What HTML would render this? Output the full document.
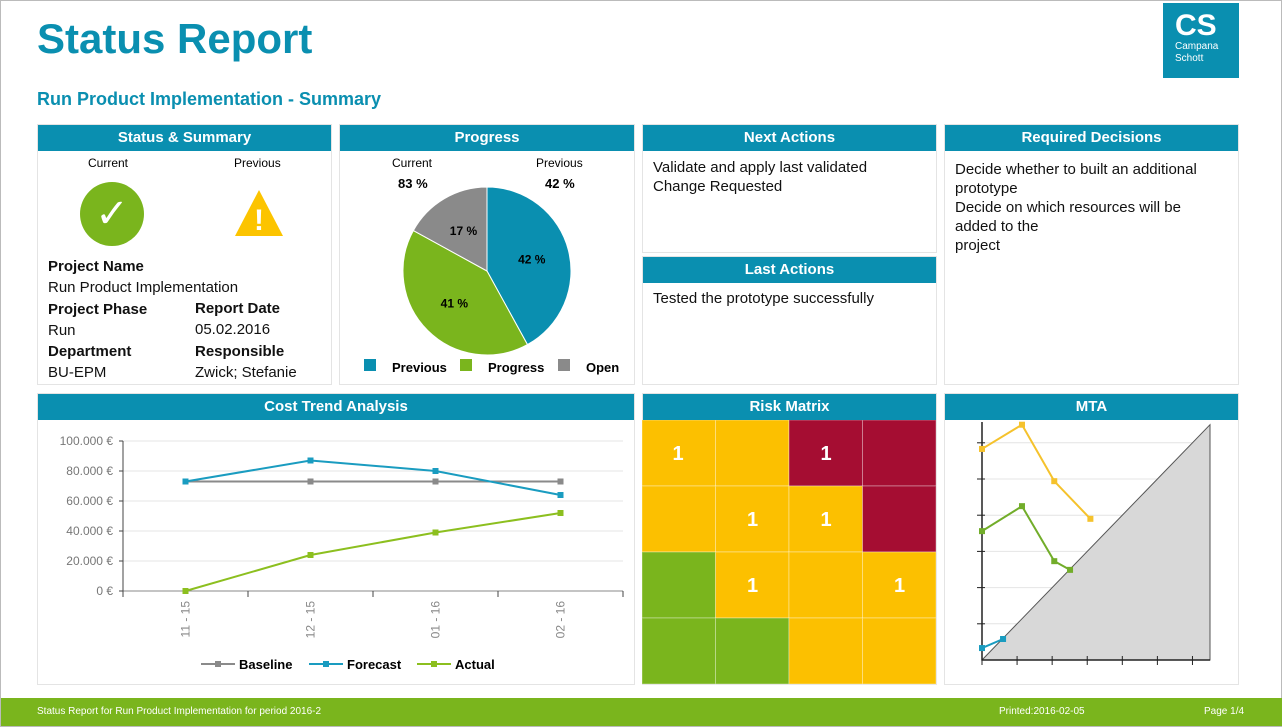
<!DOCTYPE html>
<html><head><meta charset="utf-8"><style>
*{margin:0;padding:0;box-sizing:border-box}
body{width:1282px;height:727px;background:#fff;font-family:"Liberation Sans",sans-serif;position:relative;overflow:hidden;border:1px solid #bbb}
.abs{position:absolute}
.panel{position:absolute;border:1px solid #e4e4e4;background:#fff}
.hdr{height:26px;background:#0a8fb0;color:#fff;font-weight:bold;font-size:15px;text-align:center;line-height:26px}
.txt{font-size:15px;color:#111;line-height:19px}
b{font-weight:bold}
</style></head><body>
<div class="abs" style="left:36px;top:14px;font-size:42px;font-weight:bold;color:#0a8fb0">Status Report</div>
<div class="abs" style="left:36px;top:88px;font-size:18px;font-weight:bold;color:#0a8fb0">Run Product Implementation - Summary</div>
<div class="abs" style="left:1162px;top:2px;width:76px;height:75px;background:#0a8fb0;color:#fff;padding:8px 0 0 12px">
<div style="font-size:30px;font-weight:bold;line-height:30px">CS</div><div style="font-size:10px;line-height:12px">Campana<br>Schott</div></div>

<div class="panel" style="left:36px;top:123px;width:295px;height:261px">
<div class="hdr">Status &amp; Summary</div>
<div class="abs" style="left:50px;top:31px;font-size:12px">Current</div>
<div class="abs" style="left:196px;top:31px;font-size:12px">Previous</div>
<div class="abs" style="left:42px;top:57px;width:64px;height:64px;border-radius:50%;background:#7ab51d;color:#fff;font-size:40px;text-align:center;line-height:64px">✓</div>
<svg class="abs" style="left:195px;top:63px" width="52" height="50"><polygon points="26,2 50,48 2,48" fill="#fcc400"/><text x="26" y="42" text-anchor="middle" font-size="30" fill="#fff" font-weight="bold" font-family="Liberation Sans">!</text></svg>
<div class="abs txt" style="left:10px;top:131px;line-height:21.3px"><b>Project Name</b><br>Run Product Implementation<br><b>Project Phase</b><br>Run<br><b>Department</b><br>BU-EPM</div>
<div class="abs txt" style="left:157px;top:173px;line-height:21.3px"><b>Report Date</b><br>05.02.2016<br><b>Responsible</b><br>Zwick; Stefanie</div>
</div>

<div class="panel" style="left:338px;top:123px;width:296px;height:261px">
<div class="hdr">Progress</div>
<div class="abs" style="left:52px;top:31px;font-size:12px">Current</div>
<div class="abs" style="left:196px;top:31px;font-size:12px">Previous</div>
<div class="abs" style="left:58px;top:51px;font-size:13px;font-weight:bold">83 %</div>
<div class="abs" style="left:205px;top:51px;font-size:13px;font-weight:bold">42 %</div>
<svg class="abs" id="pie" style="left:0;top:0" width="296" height="261"></svg>
</div>

<div class="panel" style="left:641px;top:123px;width:295px;height:129px">
<div class="hdr">Next Actions</div>
<div class="abs txt" style="left:10px;top:33px">Validate and apply last validated<br>Change Requested</div></div>
<div class="panel" style="left:641px;top:255px;width:295px;height:129px">
<div class="hdr">Last Actions</div>
<div class="abs txt" style="left:10px;top:32px">Tested the prototype successfully</div></div>
<div class="panel" style="left:943px;top:123px;width:295px;height:261px">
<div class="hdr">Required Decisions</div>
<div class="abs txt" style="left:10px;top:35px">Decide whether to built an additional<br>prototype<br>Decide on which resources will be<br>added to the<br>project</div></div>

<div class="panel" style="left:36px;top:392px;width:598px;height:292px">
<div class="hdr">Cost Trend Analysis</div></div>
<svg class="abs" id="cost" style="left:0;top:0" width="640" height="690"></svg>

<div class="panel" style="left:641px;top:392px;width:295px;height:292px">
<div class="hdr">Risk Matrix</div></div>
<svg class="abs" id="risk" style="left:641px;top:419px" width="295" height="265"></svg>

<div class="panel" style="left:943px;top:392px;width:295px;height:292px">
<div class="hdr">MTA</div></div>
<svg class="abs" id="mta" style="left:0;top:0" width="1282" height="690"></svg>

<div class="abs" style="left:0;top:697px;width:1282px;height:28px;background:#7ab51d;color:#fff;font-size:10px;line-height:28px">
<span style="position:absolute;left:36px">Status Report for Run Product Implementation for period 2016-2</span>
<span style="position:absolute;left:998px">Printed:2016-02-05</span>
<span style="position:absolute;left:1203px">Page 1/4</span></div>

<script>
const NS="http://www.w3.org/2000/svg";
function mk(p,t,a){const e=document.createElementNS(NS,t);for(const k in a)e.setAttribute(k,a[k]);p.appendChild(e);return e;}
// PIE
const pieLabels=["Previous","Progress","Open"];
const pieValues=[42,41,17];
const pieColors=["#0a8fb0","#7ab51d","#8a8a8a"];
const pie=document.getElementById('pie');
{let cx=147,cy=146,r=84,a=-Math.PI/2;const tot=pieValues.reduce((s,v)=>s+v,0);
pieValues.forEach((v,i)=>{const a2=a+v/tot*2*Math.PI;
const d=`M${cx},${cy}L${cx+r*Math.cos(a)},${cy+r*Math.sin(a)}A${r},${r} 0 ${a2-a>Math.PI?1:0} 1 ${cx+r*Math.cos(a2)},${cy+r*Math.sin(a2)}Z`;
const p=mk(pie,'path',{d:d,fill:pieColors[i],stroke:'#fff','stroke-width':1});


const m=(a+a2)/2;const t=mk(pie,'text',{x:cx+r*0.55*Math.cos(m),y:cy+r*0.55*Math.sin(m)+4,'text-anchor':'middle','font-size':12,'font-weight':'bold'});t.textContent=v+' %';
a=a2;});
const lx=[24,120,218];
pieLabels.forEach((l,i)=>{const g=mk(pie,'g',{});


mk(g,'rect',{x:lx[i],y:234,width:12,height:12,fill:pieColors[i]});
const t=mk(g,'text',{x:lx[i]+28,y:247,'font-size':13,'font-weight':'bold'});t.textContent=l;});}
// COST
const costCats=["11 - 15","12 - 15","01 - 16","02 - 16"];
const baseline=[73000,73000,73000,73000];
const forecast=[73000,87000,80000,64000];
const actual=[0,24000,39000,52000];
const costTicks=[0,20000,40000,60000,80000,100000];
const cost=document.getElementById('cost');
{const x0=122,x1=622,yb=590,yt=440;const bw=(x1-x0)/costCats.length;
const X=i=>x0+bw*(i+0.5),Y=v=>yb-(v/100000)*(yb-yt);
costTicks.forEach(v=>{mk(cost,'line',{x1:x0-4,x2:x1,y1:Y(v),y2:Y(v),stroke:v?'#e6e6e6':'#888'});
mk(cost,'line',{x1:x0-4,x2:x0,y1:Y(v),y2:Y(v),stroke:'#444'});
const t=mk(cost,'text',{x:x0-10,y:Y(v)+4,'text-anchor':'end','font-size':12,fill:'#777'});t.textContent=v.toLocaleString('de-DE')+' €';});
mk(cost,'line',{x1:x0,x2:x0,y1:yt,y2:yb+4,stroke:'#444'});
for(let i=0;i<=costCats.length;i++)mk(cost,'line',{x1:x0+bw*i,x2:x0+bw*i,y1:yb,y2:yb+6,stroke:'#444'});
costCats.forEach((c,i)=>{const t=mk(cost,'text',{x:X(i)+4,y:yb+10,'text-anchor':'end','font-size':12,fill:'#888',transform:`rotate(-90 ${X(i)+4} ${yb+10})`});t.textContent=c;});
const ser=[["baseline",baseline,"#8a8a8a"],["forecast",forecast,"#1a9cc0"],["actual",actual,"#8cbf1f"]];
ser.forEach(([n,d,c])=>{const pl=mk(cost,'polyline',{points:d.map((v,i)=>X(i)+','+Y(v)).join(' '),fill:'none',stroke:c,'stroke-width':2});

d.forEach((v,i)=>mk(cost,'rect',{x:X(i)-3,y:Y(v)-3,width:6,height:6,fill:c}));});
const lx=[200,308,416],ln=["Baseline","Forecast","Actual"];
ser.forEach(([n,d,c],i)=>{const g=mk(cost,'g',{});
mk(g,'line',{x1:lx[i],x2:lx[i]+34,y1:663,y2:663,stroke:c,'stroke-width':2});mk(g,'rect',{x:lx[i]+14,y:660,width:6,height:6,fill:c});
const t=mk(g,'text',{x:lx[i]+38,y:668,'font-size':13,'font-weight':'bold'});t.textContent=ln[i];});}
// RISK
const riskColors=[["y","y","r","r"],["y","y","y","r"],["g","y","y","y"],["g","g","y","y"]];
const riskCounts=[[1,0,1,0],[0,1,1,0],[0,1,0,1],[0,0,0,0]];
const risk=document.getElementById('risk');
{const cm={y:"#fcc000",r:"#a50d32",g:"#7ab51d"};const w=73.5,h=66;
riskColors.forEach((row,r)=>row.forEach((c,k)=>{const e=mk(risk,'rect',{x:k*w,y:r*h,width:w,height:h,fill:cm[c],stroke:'#fff','stroke-opacity':0.35});

if(riskCounts[r][k]){const t=mk(risk,'text',{x:k*w+(k==0?36:k*1?37:37),y:r*h+40,'text-anchor':'middle','font-size':20,'font-weight':'bold',fill:'#fff'});t.textContent=riskCounts[r][k];}}));}
// MTA
const mtaYellowX=[0,1.14,2.06,3.09], mtaYellowY=[5.83,6.5,4.94,3.9];
const mtaGreenX=[0,1.14,2.06,2.51], mtaGreenY=[3.56,4.25,2.73,2.49];
const mtaBlueX=[0,0.6], mtaBlueY=[0.33,0.58];
const mta=document.getElementById('mta');
{const ox=981,oy=659,s=36.2,max=6.5;const X=v=>ox+v*(1209-ox)/max,Y=v=>oy-v*s;
for(let i=1;i<=6;i++){mk(mta,'line',{x1:ox-4,x2:1209,y1:Y(i),y2:Y(i),stroke:'#e4e4e4'});mk(mta,'line',{x1:ox-5,x2:ox+3,y1:Y(i),y2:Y(i),stroke:'#222'});}
const tri=mk(mta,'polygon',{points:`${X(0)},${Y(0)} ${X(max)},${Y(max)} ${X(max)},${Y(0)}`,fill:'#d8d8d8',stroke:'#555','stroke-width':1});

mk(mta,'line',{x1:ox,x2:ox,y1:421,y2:oy,stroke:'#222','stroke-width':1.5});
mk(mta,'line',{x1:ox,x2:1209,y1:oy,y2:oy,stroke:'#222','stroke-width':1.5});
for(let i=0;i<=6;i++)mk(mta,'line',{x1:X(i),x2:X(i),y1:oy-4,y2:oy+5,stroke:'#222'});
[["yellow",mtaYellowX,mtaYellowY,"#f5c22c"],["green",mtaGreenX,mtaGreenY,"#72ad2a"],["blue",mtaBlueX,mtaBlueY,"#1a9cc0"]].forEach(([n,xs,ys,c])=>{
const pl=mk(mta,'polyline',{points:xs.map((v,i)=>X(v)+','+Y(ys[i])).join(' '),fill:'none',stroke:c,'stroke-width':2});

xs.forEach((v,i)=>mk(mta,'rect',{x:X(v)-3,y:Y(ys[i])-3,width:6,height:6,fill:c}));});}
</script>
</body></html>
